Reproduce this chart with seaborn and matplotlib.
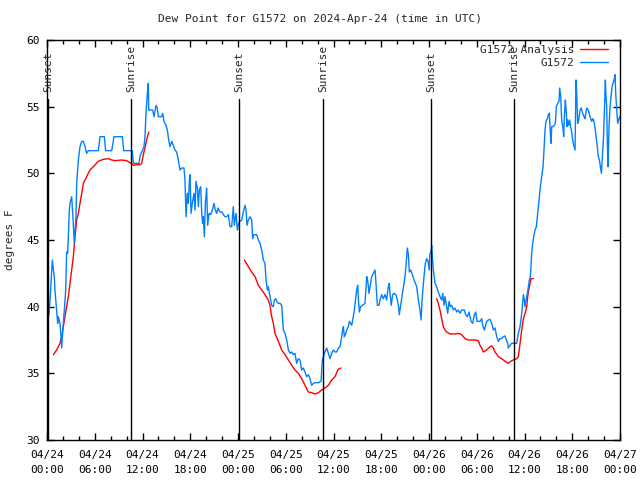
import pandas as pd
import matplotlib
matplotlib.use("Agg")
import matplotlib.pyplot as plt
import matplotlib.dates as mdates
import seaborn as sns

# observed dew point (hours after 04/24 00:00 UTC, degrees F)
obs_hours = [
    0.08, 0.25, 0.38, 0.59, 0.67, 0.80, 0.92, 1.00, 1.21, 1.34, 1.42, 1.63, 1.76, 1.84,
    2.05, 2.18, 2.35, 2.47, 2.60, 2.68, 2.81, 2.89, 3.10, 3.23, 3.43, 3.64, 3.73, 3.94,
    4.15, 4.36, 4.57, 4.78, 4.98, 5.19, 6.45, 6.66, 7.20, 7.37, 8.13, 8.42, 9.47, 9.64,
    10.72, 10.85, 11.56, 11.69, 11.98, 12.19, 12.31, 12.44, 12.61, 12.73, 12.78, 12.94,
    13.28, 13.45, 13.70, 13.86, 13.99, 14.41, 14.54, 14.70, 14.95, 15.12, 15.29, 15.46,
    15.67, 15.87, 16.08, 16.29, 16.50, 16.71, 16.92, 17.21, 17.34, 17.47, 17.63, 17.76,
    17.89, 17.97, 18.10, 18.26, 18.47, 18.60, 18.72, 18.89, 19.02, 19.14, 19.31, 19.44,
    19.56, 19.64, 19.77, 19.90, 20.06, 20.19, 20.36, 20.57, 20.78, 20.99, 21.15, 21.32,
    21.49, 21.74, 21.99, 22.16, 22.37, 22.58, 22.79, 23.00, 23.21, 23.41, 23.54, 23.75,
    23.92, 24.08, 24.25, 24.46, 24.67, 24.88, 25.01, 25.13, 25.30, 25.51, 25.72, 25.84,
    26.01, 26.35, 26.56, 26.77, 26.98, 27.18, 27.39, 27.52, 27.69, 27.81, 27.94, 28.11,
    28.23, 28.44, 28.57, 28.73, 28.86, 29.07, 29.28, 29.49, 29.70, 29.91, 30.12, 30.33,
    30.54, 30.75, 30.95, 31.16, 31.37, 31.58, 31.79, 32.00, 32.21, 32.42, 32.63, 32.84,
    33.05, 33.26, 33.47, 33.68, 34.10, 34.43, 34.60, 34.72, 34.93, 35.14, 35.35, 35.56,
    35.77, 35.98, 36.19, 36.40, 36.61, 36.82, 37.03, 37.15, 37.24, 37.36, 37.49, 37.66,
    37.87, 37.99, 38.16, 38.29, 38.49, 38.62, 38.74, 38.91, 39.04, 39.16, 39.25, 39.42,
    39.62, 39.96, 40.17, 40.29, 40.46, 40.59, 40.80, 41.01, 41.22, 41.34, 41.51, 41.72,
    41.84, 42.05, 42.26, 42.47, 42.68, 42.89, 43.01, 43.10, 43.26, 43.43, 43.60, 43.85,
    44.02, 44.18, 44.27, 44.44, 44.69, 44.86, 45.03, 45.20, 45.28, 45.41, 45.53, 45.70,
    45.91, 46.12, 46.28, 46.45, 46.66, 46.87, 47.00, 47.16, 47.37, 47.54, 47.71, 47.88,
    48.04, 48.09, 48.25, 48.34, 48.42, 48.55, 48.76, 48.96, 49.17, 49.38, 49.59, 49.72,
    49.89, 50.01, 50.18, 50.35, 50.52, 50.68, 50.85, 51.06, 51.27, 51.48, 51.69, 51.90,
    52.11, 52.44, 52.61, 52.82, 53.03, 53.28, 53.49, 53.70, 53.87, 54.03, 54.41, 54.62,
    54.79, 54.96, 55.25, 55.46, 55.67, 55.88, 56.09, 56.30, 56.51, 56.72, 56.92, 57.13,
    57.34, 57.55, 57.72, 57.89, 57.97, 58.18, 58.39, 58.81, 59.02, 59.23, 59.44, 59.65,
    59.86, 59.98, 60.07, 60.19, 60.36, 60.49, 60.61, 60.74, 60.90, 61.03, 61.16, 61.32,
    61.49, 61.66, 61.82, 61.99, 62.16, 62.33, 62.45, 62.58, 62.70, 62.87, 63.00, 63.12,
    63.25, 63.33, 63.42, 63.58, 63.75, 63.88, 64.00, 64.17, 64.34, 64.42, 64.55, 64.67,
    64.84, 64.92, 65.01, 65.13, 65.22, 65.34, 65.43, 65.55, 65.68, 65.80, 65.93, 66.06,
    66.18, 66.35, 66.47, 66.56, 66.68, 66.81, 66.98, 67.14, 67.31, 67.48, 67.60, 67.81,
    68.02, 68.23, 68.44, 68.61, 68.78, 68.90, 69.03, 69.15, 69.28, 69.41, 69.53, 69.66,
    69.78, 69.91, 70.03, 70.16, 70.24, 70.33, 70.41, 70.50, 70.62, 70.75, 70.87, 71.00,
    71.13, 71.25, 71.38, 71.46, 71.59, 71.71, 71.88, 72.00,
]
obs_vals = [
    40.25, 39.4, 40.5, 42.75, 43.5, 42.75, 42.25, 41.25, 39.75, 38.75, 39.25, 38.75, 37.75, 36.9,
    38.75, 39.75, 41.25, 44.1, 44.0, 45.25, 47.25, 47.75, 48.25, 47.0, 44.75, 46.75, 49.25, 51.0,
    52.0, 52.4, 52.4, 52.0, 51.5, 51.7, 51.7, 52.75, 52.75, 51.7, 51.7, 52.75, 52.75, 51.7,
    51.7, 50.75, 50.75, 51.3, 51.7, 52.0, 52.75, 54.5, 56.0, 56.75, 54.75, 54.75,
    54.75, 54.25, 55.1, 54.9, 54.25, 54.25, 54.5, 53.9, 53.6, 53.25, 52.5, 52.0,
    52.4, 52.1, 51.75, 51.6, 51.0, 50.25, 50.4, 50.4, 49.5, 46.75, 48.5, 47.75,
    49.5, 49.9, 47.0, 47.75, 48.5, 47.25, 49.4, 48.9, 47.5, 48.75, 49.0, 47.0,
    46.25, 46.75, 45.25, 47.75, 48.9, 46.1, 47.0, 46.9, 47.25, 47.75, 47.25, 47.0,
    47.4, 47.1, 47.1, 46.9, 46.75, 46.75, 46.9, 46.0, 46.0, 47.5, 46.1, 47.0,
    45.75, 46.25, 46.4, 46.5, 47.1, 47.6, 47.25, 46.1, 46.5, 46.75, 46.5, 45.1,
    45.4, 45.4, 45.0, 44.75, 44.25, 43.5, 43.25, 42.0, 41.25, 41.5, 41.0, 40.5,
    40.1, 40.0, 40.5, 40.6, 40.4, 40.25, 40.25, 40.1, 38.25, 38.0, 37.5, 36.75,
    36.5, 36.6, 36.4, 36.5, 35.75, 36.1, 36.0, 35.25, 35.4, 35.1, 34.75, 34.9,
    34.6, 34.1, 34.25, 34.3, 34.3, 34.4, 36.0, 36.25, 36.6, 36.9, 36.5, 36.1,
    36.5, 36.75, 36.6, 36.6, 36.9, 37.0, 37.75, 38.25, 38.5, 37.75, 37.9, 38.25,
    38.5, 38.9, 38.75, 38.6, 39.25, 39.75, 40.4, 41.25, 41.6, 40.25, 39.6, 40.0,
    40.1, 40.25, 42.25, 42.0, 41.0, 41.5, 42.25, 42.5, 42.75, 41.75, 40.1, 40.1,
    40.5, 40.9, 40.6, 40.9, 40.5, 41.5, 41.75, 41.0, 40.1, 40.9, 41.0, 40.9,
    40.5, 40.0, 39.4, 40.1, 41.1, 41.75, 42.5, 43.75, 44.4, 43.9, 42.6, 42.75,
    42.4, 42.0, 41.75, 41.5, 40.5, 39.75, 39.0, 40.75, 42.25, 43.25, 43.6, 43.4,
    42.75, 43.9, 44.1, 44.6, 43.75, 42.75, 41.75, 41.5, 41.1, 40.75, 40.5, 41.0,
    40.1, 40.75, 40.1, 39.5, 40.4, 40.0, 40.1, 39.75, 39.9, 39.6, 39.75, 39.5,
    39.75, 39.75, 39.4, 39.25, 39.6, 38.9, 38.75, 39.4, 39.6, 38.9, 38.9, 39.1,
    38.5, 38.25, 38.9, 39.0, 39.05, 38.75, 38.25, 38.4, 37.75, 37.4, 37.6, 37.6,
    37.75, 37.8, 37.5, 37.25, 36.9, 37.1, 37.25, 37.25, 37.25, 38.0, 38.5, 39.5,
    40.9, 40.5, 40.0, 40.5, 41.0, 41.5, 42.0, 42.25, 44.0, 44.75, 45.25, 45.75,
    46.0, 47.0, 48.0, 49.0, 49.75, 50.5, 51.75, 53.25, 53.9, 54.1, 54.4, 54.5,
    53.0, 52.25, 53.5, 53.5, 53.6, 53.75, 55.0, 55.25, 55.4, 56.4, 55.75, 54.0,
    53.4, 52.75, 54.25, 55.5, 54.9, 53.5, 54.0, 53.6, 54.0, 53.5, 53.1, 52.5,
    52.1, 51.75, 57.0, 56.0, 53.75, 54.0, 54.75, 54.9, 54.5, 54.25, 54.1, 54.9,
    54.75, 54.25, 53.9, 54.1, 53.75, 53.25, 52.6, 52.0, 51.25, 51.0, 50.5, 50.0,
    51.25, 52.5, 54.5, 57.0, 55.75, 55.0, 52.25, 50.5, 53.5, 55.0, 55.75, 56.5,
    56.75, 57.0, 57.4, 56.0, 54.75, 53.75, 54.1, 54.25,
]

# analysis runs (three separate segments)
ana_hours_1 = [0.80, 1.21, 1.63, 1.84, 2.05, 2.26, 2.47, 2.68, 2.89, 3.10, 3.31, 3.52, 3.73,
               3.94, 4.15, 4.36, 4.57, 4.78, 4.98, 5.19, 5.40, 5.82, 6.45, 7.08, 7.71, 8.13,
               8.54, 9.38, 10.01, 10.43, 10.85, 11.27, 11.69, 11.90, 12.10, 12.31, 12.55, 12.80]
ana_vals_1 = [36.4, 36.75, 37.25, 37.75, 38.5, 39.25, 40.0, 40.75, 41.75, 42.75, 43.75, 45.25,
              46.5, 47.0, 47.75, 48.5, 49.25, 49.5, 49.75, 50.0, 50.25, 50.5, 50.9, 51.05,
              51.1, 51.0, 50.95, 51.0, 50.95, 50.8, 50.6, 50.65, 50.65, 50.75, 51.4, 51.9,
              52.6, 53.1]
ana_hours_2 = [24.80, 25.30, 25.72, 26.14, 26.56, 26.98, 27.39, 27.81, 28.02, 28.23, 28.44,
               28.65, 29.07, 29.49, 29.91, 30.33, 30.75, 31.16, 31.58, 32.00, 32.42, 32.84,
               33.26, 33.68, 34.10, 34.51, 34.93, 35.35, 35.77, 36.19, 36.57, 36.94]
ana_vals_2 = [43.5, 43.0, 42.6, 42.25, 41.6, 41.25, 40.9, 40.5, 40.1, 39.25, 38.75, 38.0,
              37.4, 36.75, 36.4, 36.0, 35.6, 35.25, 35.0, 34.6, 34.1, 33.6, 33.55, 33.45,
              33.55, 33.75, 33.9, 34.1, 34.5, 34.75, 35.3, 35.4]
ana_hours_3 = [48.96, 49.17, 49.38, 49.59, 49.80, 50.01, 50.22, 50.64, 51.27, 51.69, 52.11,
               52.53, 52.94, 53.78, 54.20, 54.41, 54.62, 54.83, 55.25, 55.67, 55.88, 56.09,
               56.30, 56.72, 57.13, 57.55, 57.97, 58.39, 59.02, 59.23, 59.44, 59.65, 59.86,
               60.07, 60.28, 60.40, 60.53, 60.70, 60.82, 61.11]
ana_vals_3 = [40.6, 40.25, 39.75, 39.1, 38.5, 38.25, 38.1, 37.95, 37.95, 38.0, 37.9,
              37.6, 37.5, 37.5, 37.45, 37.1, 36.9, 36.6, 36.75, 37.0, 37.05, 36.9,
              36.6, 36.25, 36.1, 35.9, 35.75, 35.95, 36.1, 36.25, 37.25, 38.25, 39.1,
              39.5, 40.0, 40.75, 41.25, 41.75, 42.1, 42.1]

# sunrise / sunset markers
sun_hours = [0.1, 10.55, 24.17, 34.72, 48.3, 58.73]
sun_labels = ["Sunset", "Sunrise", "Sunset", "Sunrise", "Sunset", "Sunrise"]

base = pd.Timestamp("2024-04-24 00:00")

# build one long table for seaborn
parts = [pd.DataFrame({"hours": obs_hours, "dewpoint": obs_vals,
                       "series": "G1572", "seg": 0})]
for i, (h, v) in enumerate([(ana_hours_1, ana_vals_1), (ana_hours_2, ana_vals_2),
                            (ana_hours_3, ana_vals_3)]):
    parts.append(pd.DataFrame({"hours": h, "dewpoint": v,
                               "series": "G1572 Analysis", "seg": i + 1}))
df = pd.concat(parts, ignore_index=True)
df["time"] = base + pd.to_timedelta(df["hours"], unit="h")

sns.set_style("ticks")
plt.rcParams["font.family"] = ["DejaVu Sans Mono"]
plt.rcParams["font.size"] = 8

fig = plt.figure(figsize=(6.4, 4.8), dpi=100)
ax = fig.add_axes([47 / 640, 40 / 480, 573 / 640, 400 / 480])

sns.lineplot(data=df, x="time", y="dewpoint", hue="series", units="seg",
             estimator=None, sort=False, hue_order=["G1572 Analysis", "G1572"],
             palette={"G1572 Analysis": "#ff0000", "G1572": "#0080ff"},
             linewidth=1, ax=ax)

for h, lab in zip(sun_hours, sun_labels):
    t = base + pd.Timedelta(hours=h)
    ax.axvline(t, ymin=0, ymax=0.8525, color="black", linewidth=1)
    ax.text(t, 0.87, lab, transform=ax.get_xaxis_transform(), rotation=90,
            ha="center", va="bottom", fontsize=8)

ax.set_xlim(base, base + pd.Timedelta(hours=72))
ax.set_ylim(30, 60)
ax.set_yticks(range(30, 61, 5))
ax.xaxis.set_major_locator(mdates.HourLocator(byhour=[0, 6, 12, 18]))
ax.xaxis.set_minor_locator(mdates.HourLocator(interval=2))
ax.xaxis.set_major_formatter(mdates.DateFormatter("%m/%d\n%H:%M"))
for lab in ax.get_xticklabels():
    lab.set_linespacing(1.65)

ax.tick_params(which="both", direction="in", top=True, right=True, colors="black")
ax.tick_params(which="major", length=5, width=1)
ax.tick_params(axis="x", which="major", pad=7)
ax.tick_params(axis="y", which="major", pad=5)
ax.tick_params(which="minor", length=3, width=1)
for s in ax.spines.values():
    s.set_color("black")
    s.set_linewidth(1)

ax.set_xlabel("")
ax.set_ylabel("degrees F")
ax.yaxis.set_label_coords(-0.055, 0.5)

ax.legend(loc="upper right", bbox_to_anchor=(1 - 12 / 573, 1 - 5 / 400), frameon=False,
          markerfirst=False, borderaxespad=0, borderpad=0, handlelength=2.5,
          handletextpad=0.55, labelspacing=0.25, fontsize=8)

fig.text(0.5, 1 - 19 / 480, "Dew Point for G1572 on 2024-Apr-24 (time in UTC)",
         ha="center", va="center", fontsize=8)

fig.savefig("out.png", dpi=100)
